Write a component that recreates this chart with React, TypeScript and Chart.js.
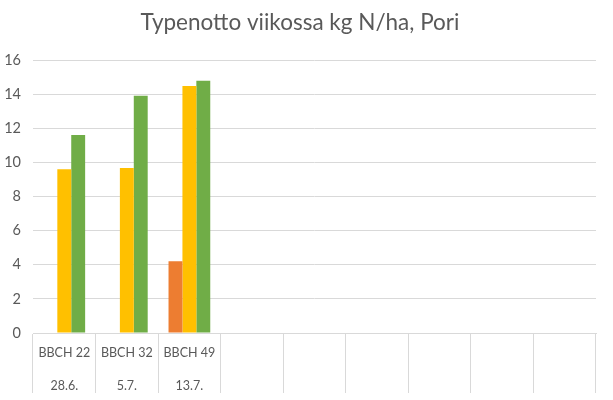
import React, { useEffect, useRef } from "react";
import { Chart, registerables } from "chart.js";

Chart.register(...registerables);

const stages = ["BBCH 22", "BBCH 32", "BBCH 49", "", "", "", "", "", ""];
const dates = ["28.6.", "5.7.", "13.7.", "", "", "", "", "", ""];
const seriesA = [null, null, 4.2, null, null, null, null, null, null];
const seriesB = [9.6, 9.67, 14.48, null, null, null, null, null, null];
const seriesC = [11.6, 13.9, 14.78, null, null, null, null, null, null];
const yTicks = [0, 2, 4, 6, 8, 10, 12, 14, 16];

const FONT = "Lato, 'Open Sans', sans-serif";
const TEXT = "#595959";
const GRID = "#D9D9D9";

export default function App() {
  const ref = useRef<HTMLCanvasElement | null>(null);

  useEffect(() => {
    document.body.style.margin = "0";
    const canvas = ref.current;
    if (!canvas) return;
    const chart = new Chart(canvas, {
      type: "bar",
      data: {
        labels: stages.map((s, i) => [s, dates[i]]),
        datasets: [
          { label: "A", data: seriesA, backgroundColor: "#ED7D31" },
          { label: "B", data: seriesB, backgroundColor: "#FFC000" },
          { label: "C", data: seriesC, backgroundColor: "#70AD47" },
        ],
      },
      options: {
        responsive: false,
        animation: false,
        devicePixelRatio: 1,
        layout: { padding: { left: 4, right: 17, top: 0, bottom: 0 } },
        datasets: { bar: { categoryPercentage: 0.667, barPercentage: 1 } },
        plugins: {
          legend: { display: false },
          tooltip: { enabled: false },
          title: {
            display: true,
            text: "Typenotto viikossa kg N/ha, Pori",
            color: TEXT,
            font: { family: FONT, size: 22.5, weight: "normal" },
            padding: { top: 9, bottom: 24 },
          },
        },
        scales: {
          x: {
            grid: {
              display: true,
              offset: true,
              drawOnChartArea: false,
              drawTicks: true,
              tickLength: 60,
              color: GRID,
              lineWidth: 1,
            },
            border: { display: true, color: GRID },
            ticks: {
              color: TEXT,
              font: { family: FONT, size: 12.5, lineHeight: 2.6 },
              padding: -56,
              maxRotation: 0,
              autoSkip: false,
            },
            afterFit: (scale: any) => {
              scale.height = 67;
            },
          },
          y: {
            min: 0,
            max: 16,
            afterBuildTicks: (scale: any) => {
              scale.ticks = yTicks.map((v) => ({ value: v }));
            },
            afterFit: (scale: any) => {
              scale.width = 29;
            },
            grid: { color: GRID, drawTicks: false },
            border: { display: false },
            ticks: {
              color: TEXT,
              font: { family: FONT, size: 14.5 },
              padding: 12,
            },
          },
        },
      },
    });
    return () => chart.destroy();
  }, []);

  return (
    <div style={{ width: 613, height: 400, background: "#fff" }}>
      <canvas ref={ref} width={613} height={400} />
    </div>
  );
}
